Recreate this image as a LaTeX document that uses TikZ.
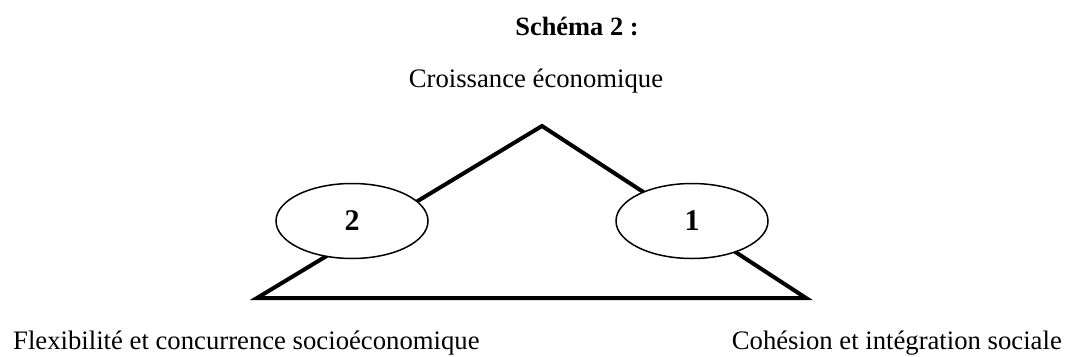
\documentclass[tikz,border=0pt]{standalone}
\usepackage{fontspec}
\setmainfont{Liberation Serif}
\usetikzlibrary{shapes.geometric}
\begin{document}
\begin{tikzpicture}[x=1pt,y=-1pt,
  lbl/.style={inner sep=0pt,font=\fontsize{26.7}{30}\selectfont},
  ttl/.style={inner sep=0pt,font=\fontsize{26.4}{30}\selectfont\bfseries},
  oval/.style={ellipse,draw,line width=1.5pt,fill=white,minimum width=152pt,minimum height=75pt,inner sep=0pt,font=\fontsize{30}{34}\selectfont\bfseries},
  side/.style={line width=4pt,line join=miter}]
\useasboundingbox (0,0) rectangle (1065,356);
\node[ttl,anchor=base] (title) at (577,35) {Schéma 2 :};
\node[lbl,anchor=base] (top) at (536,87) {Croissance économique};
\node[lbl,anchor=base west] (left) at (13,349) {Flexibilité et concurrence socioéconomique};
\node[lbl,anchor=base east] (right) at (1062,349) {Cohésion et intégration sociale};
\coordinate (A) at (542,126);
\coordinate (B) at (257,298);
\coordinate (C) at (806,298);
\draw[side] (B) -- (A) -- (C) -- cycle;
\node[oval] (e2) at (352,221) {2};
\node[oval] (e1) at (692,221) {1};
\end{tikzpicture}
\end{document}
